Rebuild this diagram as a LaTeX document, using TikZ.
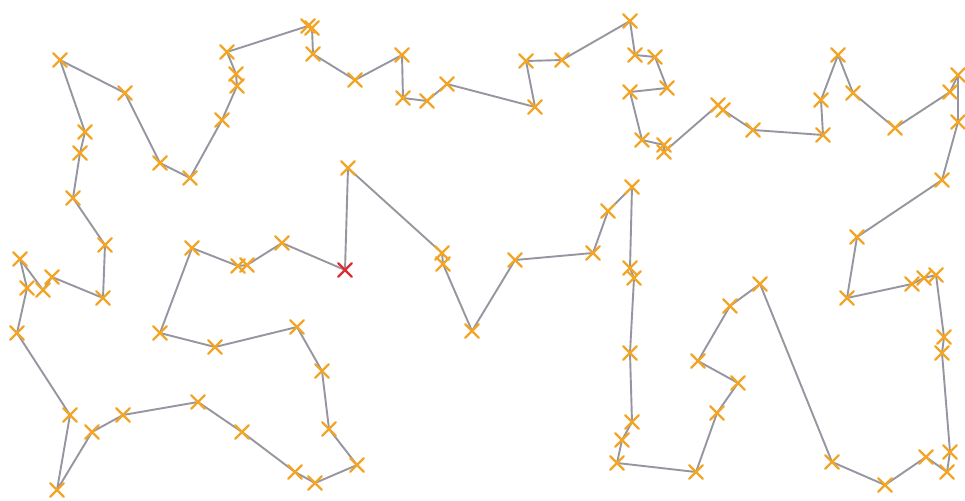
\documentclass[tikz,border=0pt]{standalone}
\usetikzlibrary{shapes.misc}
\definecolor{tourgrey}{RGB}{150,150,160}
\definecolor{markorange}{RGB}{243,166,38}
\definecolor{markred}{RGB}{220,45,50}
\tikzset{
  tour/.style={draw=tourgrey, line width=1.9pt, line join=round},
  cityx/.style={cross out, draw=markorange, line width=2.4pt, minimum size=11pt, inner sep=0pt, line cap=round},
  startx/.style={cross out, draw=markred, line width=2.4pt, minimum size=11pt, inner sep=0pt, line cap=round}
}
\begin{document}
\begin{tikzpicture}[x=1pt,y=-1pt]
\useasboundingbox[fill=white] (0,0) rectangle (965,500);
\foreach \n/\x/\y in {
1/345/270, 2/282/243, 3/247/265, 4/238/266, 5/192/248, 6/160/333, 7/215/347, 8/297/327,
9/322/371, 10/329/429, 11/357/465, 12/315/483, 13/295/472, 14/242/432, 15/198/402, 16/123/415,
17/92/432, 18/57/490, 19/70/415, 20/17/333, 21/27/288, 22/20/259, 23/43/290, 24/52/277,
25/103/298, 26/105/245, 27/73/198, 28/80/153, 29/85/132, 30/60/60, 31/125/93, 32/160/163,
33/190/178, 34/222/120, 35/237/86, 36/236/74, 37/227/52, 38/308/26, 39/312/28, 40/313/54,
41/355/80, 42/402/55, 43/403/98, 44/427/101, 45/447/84, 46/535/107, 47/526/61, 48/562/60,
49/630/21, 50/635/55, 51/655/57, 52/667/88, 53/630/92, 54/642/140, 55/664/145, 56/664/152,
57/718/105, 58/723/110, 59/753/130, 60/823/135, 61/821/100, 62/838/55, 63/853/93, 64/895/128,
65/950/92, 66/958/75, 67/958/122, 68/942/180, 69/857/237, 70/847/298, 71/912/284, 72/924/278,
73/936/275, 74/944/337, 75/942/353, 76/950/452, 77/947/472, 78/926/457, 79/885/485, 80/832/462,
81/760/284, 82/730/306, 83/698/361, 84/738/383, 85/717/413, 86/696/472, 87/617/463, 88/622/440,
89/632/422, 90/630/353, 91/634/278, 92/630/268, 93/632/187, 94/608/211, 95/593/253, 96/515/260,
97/472/331, 98/443/264, 99/442/253, 100/348/168}
  \coordinate (c\n) at (\x,\y);
\draw[tour] (c1) \foreach \i in {2,...,100} { -- (c\i) } -- cycle;
\foreach \i in {2,...,100} \node[cityx] (m\i) at (c\i) {};
\node[startx] (m1) at (c1) {};
\end{tikzpicture}
\end{document}
